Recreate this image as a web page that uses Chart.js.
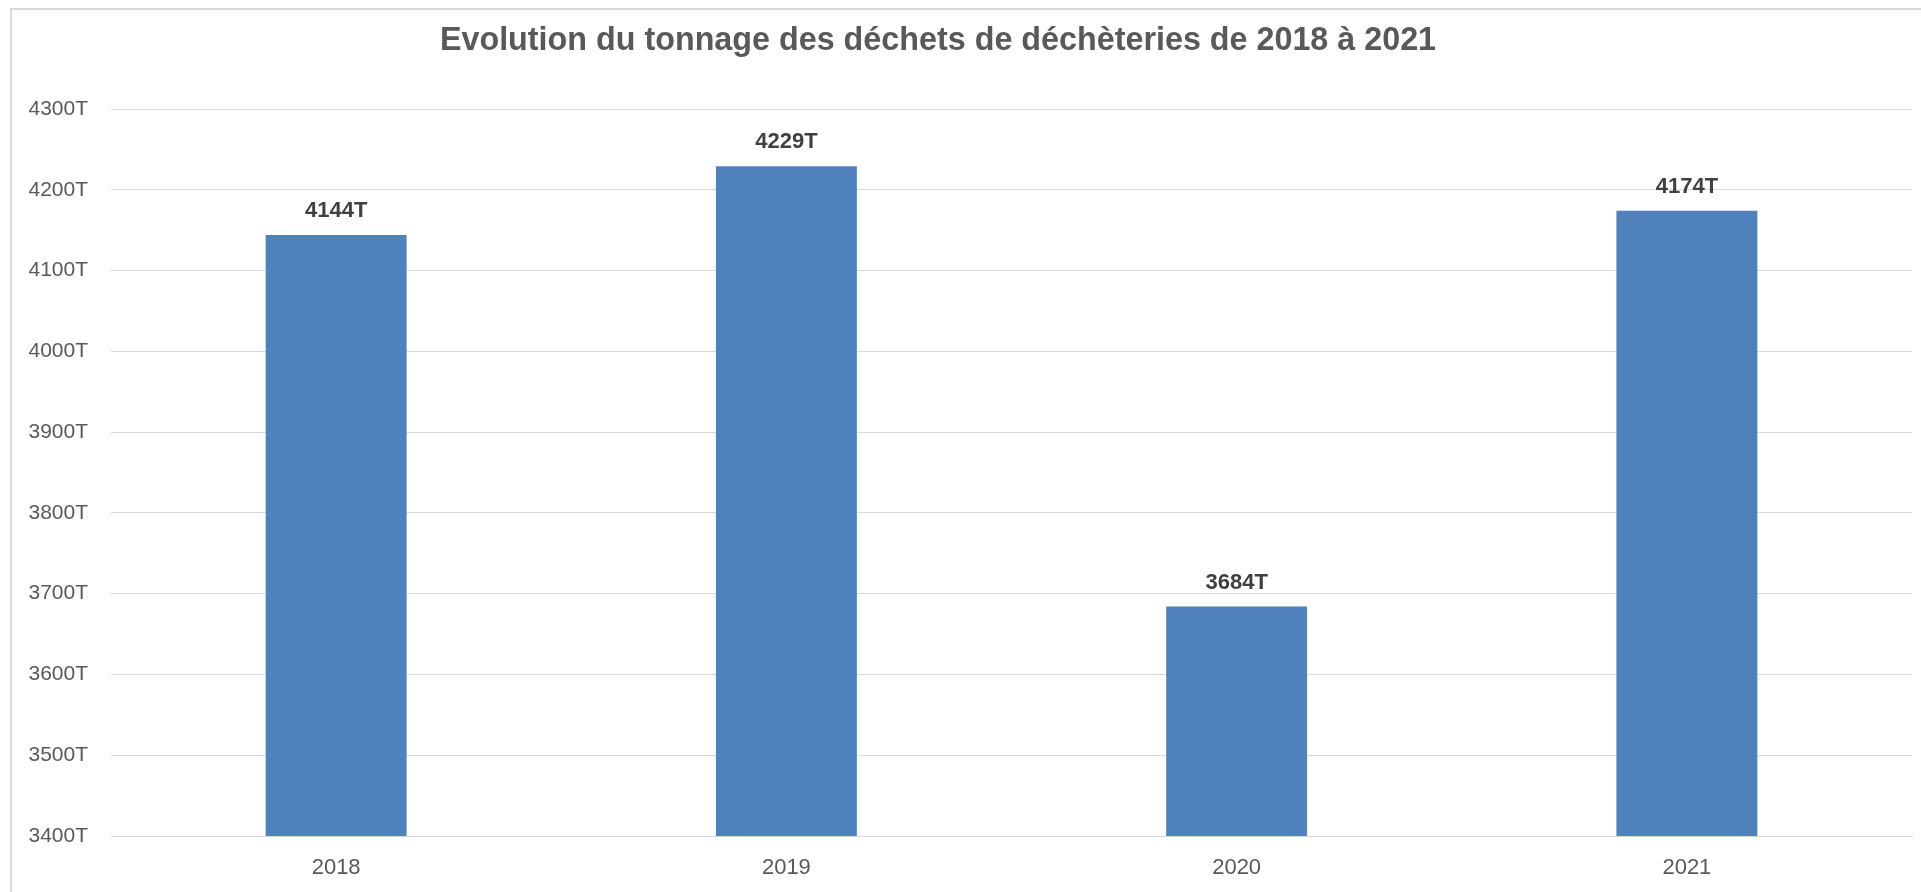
<!DOCTYPE html>
<html>
<head>
<meta charset="utf-8">
<script src="https://cdn.jsdelivr.net/npm/chart.js@4"></script>
<style>
html,body{margin:0;padding:0;background:#fff;overflow:hidden;}
#wrap{width:1921px;height:892px;position:relative;}
</style>
</head>
<body>
<div id="wrap"><canvas id="c"></canvas></div>
<script>
const titleText = "Evolution du tonnage des déchets de déchèteries de 2018 à 2021";
const categories = ["2018", "2019", "2020", "2021"];
const tonnage = [4144, 4229, 3684, 4174];
const yMin = 3400, yMax = 4300, yStep = 100;
const unit = "T";

const framePlugin = {
  id: 'frame',
  beforeDraw(chart) {
    const ctx = chart.ctx;
    ctx.save();
    ctx.fillStyle = '#ffffff';
    ctx.fillRect(0, 0, chart.width, chart.height);
    ctx.strokeStyle = '#d9d9d9';
    ctx.lineWidth = 2;
    ctx.beginPath();
    ctx.moveTo(11, chart.height + 2);
    ctx.lineTo(11, 9);
    ctx.lineTo(chart.width + 2, 9);
    ctx.stroke();
    // title
    ctx.font = 'bold 32.3px "Liberation Sans", Arial, sans-serif';
    ctx.fillStyle = '#595959';
    ctx.textAlign = 'center';
    ctx.textBaseline = 'alphabetic';
    ctx.fillText(titleText, 938, 50);
    ctx.restore();
  }
};

const labelPlugin = {
  id: 'barLabels',
  afterDatasetsDraw(chart) {
    const ctx = chart.ctx;
    const meta = chart.getDatasetMeta(0);
    ctx.save();
    ctx.font = 'bold 22px "Liberation Sans", Arial, sans-serif';
    ctx.fillStyle = '#404040';
    ctx.textAlign = 'center';
    ctx.textBaseline = 'alphabetic';
    meta.data.forEach((bar, i) => {
      ctx.fillText(tonnage[i] + unit, bar.x, bar.y - 18);
    });
    ctx.restore();
  }
};

new Chart(document.getElementById('c'), {
  type: 'bar',
  data: {
    labels: categories,
    datasets: [{
      data: tonnage,
      backgroundColor: '#4F81BD',
      borderWidth: 0,
      categoryPercentage: 1.0,
      barPercentage: 0.313
    }]
  },
  options: {
    responsive: true,
    maintainAspectRatio: false,
    animation: false,
    devicePixelRatio: 1,
    layout: { padding: { left: 0, right: 9, top: 109, bottom: 0 } },
    plugins: {
      legend: { display: false },
      tooltip: { enabled: false },
      title: { display: false }
    },
    scales: {
      x: {
        grid: { display: false, drawTicks: false },
        border: { display: true, color: '#d9d9d9', width: 1 },
        ticks: {
          color: '#595959',
          font: { family: '"Liberation Sans", Arial, sans-serif', size: 22 },
          padding: 19
        },
        afterFit(scale) { scale.height = 56; }
      },
      y: {
        min: yMin,
        max: yMax,
        grid: { color: '#d9d9d9', lineWidth: 1, drawTicks: false },
        border: { display: false },
        ticks: {
          stepSize: yStep,
          color: '#595959',
          font: { family: '"Liberation Sans", Arial, sans-serif', size: 21 },
          padding: 23,
          callback: (v) => v + unit
        },
        afterFit(scale) { scale.width = 111; }
      }
    }
  },
  plugins: [framePlugin, labelPlugin]
});
</script>
</body>
</html>
